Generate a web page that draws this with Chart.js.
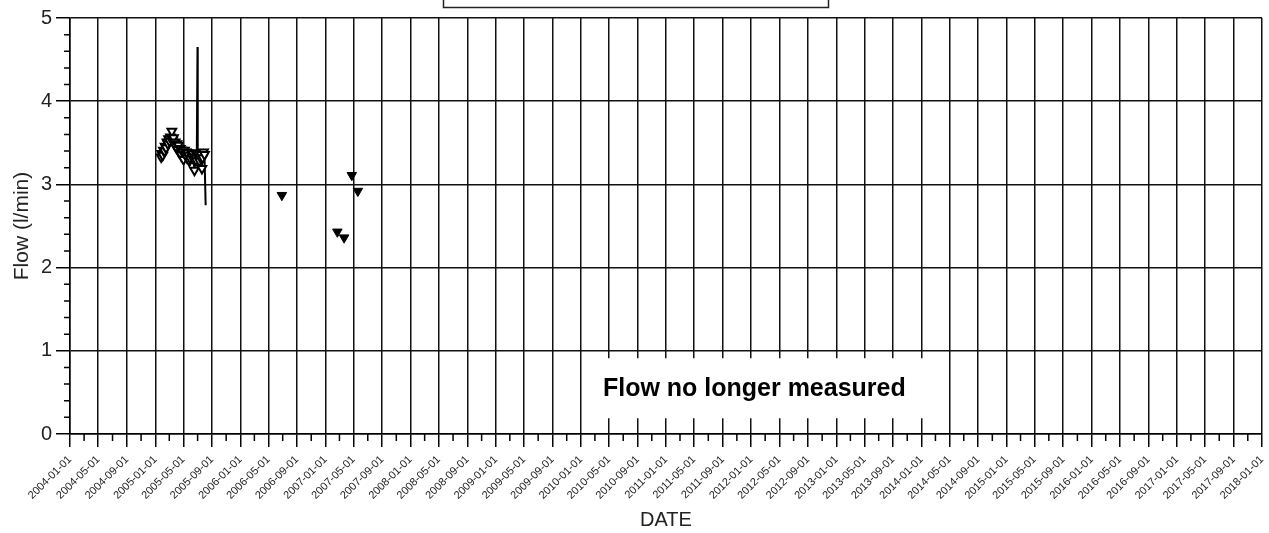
<!DOCTYPE html>
<html>
<head>
<meta charset="utf-8">
<title>Flow</title>
<script src="https://cdn.jsdelivr.net/npm/chart.js@4.4.1/dist/chart.umd.min.js"></script>
<style>
    html, body { margin: 0; padding: 0; background: #fff; }
    #wrap { width: 1269px; height: 533px; }
</style>
</head>
<body>
<div id="wrap"><canvas id="flowChart" width="1269" height="533"></canvas></div>
<script>
// logger series (line + open triangles)
const loggerDates = [
    '2005-01-26', '2005-01-29', '2005-02-02', '2005-02-05', '2005-02-09', '2005-02-12',
    '2005-02-16', '2005-02-20', '2005-02-24', '2005-02-27', '2005-03-03', '2005-03-07',
    '2005-03-10', '2005-03-13', '2005-03-16', '2005-03-20', '2005-03-24', '2005-03-27',
    '2005-03-31', '2005-04-04', '2005-04-07', '2005-04-10', '2005-04-14', '2005-04-18',
    '2005-04-21', '2005-04-25', '2005-04-28', '2005-05-02', '2005-05-06', '2005-05-10',
    '2005-05-13', '2005-05-17', '2005-05-20', '2005-05-23', '2005-05-27', '2005-05-31',
    '2005-06-04', '2005-06-08', '2005-06-11', '2005-06-15', '2005-06-18', '2005-06-22',
    '2005-06-25', '2005-06-28', '2005-07-01', '2005-07-02', '2005-07-05', '2005-07-09',
    '2005-07-12', '2005-07-16', '2005-07-20', '2005-07-23', '2005-07-27', '2005-07-31',
    '2005-08-05'
]
const loggerFlow = [
    3.33, 3.37, 3.35, 3.41, 3.40, 3.46,
    3.44, 3.51, 3.49, 3.55, 3.52, 3.57,
    3.55, 3.64, 3.53, 3.56, 3.48, 3.51,
    3.45, 3.49, 3.42, 3.47, 3.38, 3.43,
    3.36, 3.41, 3.39, 3.30, 3.41, 3.36,
    3.39, 3.32, 3.38, 3.35, 3.28, 3.31,
    3.38, 3.33, 3.37, 3.30, 3.17, 3.33,
    3.29, 3.35, 4.65, 3.34, 3.35, 3.28,
    3.33, 3.36, 3.19, 3.32, 3.39, 3.36,
    2.75
]
// readings drawn without a marker
const loggerNoMarker = ['2005-07-01', '2005-08-05']

// manual readings (filled triangles)
const manualDates = ['2006-06-28', '2007-02-21', '2007-03-22', '2007-04-24', '2007-05-20']
const manualFlow = [2.87, 2.43, 2.36, 3.11, 2.92]

const tickDates = [
    '2004-01-01', '2004-05-01', '2004-09-01', '2005-01-01', '2005-05-01', '2005-09-01',
    '2006-01-01', '2006-05-01', '2006-09-01', '2007-01-01', '2007-05-01', '2007-09-01',
    '2008-01-01', '2008-05-01', '2008-09-01', '2009-01-01', '2009-05-01', '2009-09-01',
    '2010-01-01', '2010-05-01', '2010-09-01', '2011-01-01', '2011-05-01', '2011-09-01',
    '2012-01-01', '2012-05-01', '2012-09-01', '2013-01-01', '2013-05-01', '2013-09-01',
    '2014-01-01', '2014-05-01', '2014-09-01', '2015-01-01', '2015-05-01', '2015-09-01',
    '2016-01-01', '2016-05-01', '2016-09-01', '2017-01-01', '2017-05-01', '2017-09-01',
    '2018-01-01'
]
const flowTicks = [0, 1, 2, 3, 4, 5]

const noteText = 'Flow no longer measured'
const noteAt = { date: '2012-01-15', flow: 0.55 }

const FONT = 'Liberation Sans, Arial, sans-serif'

const toPoints = (dates, vals) => dates.map((d, i) => ({ x: Date.parse(d), y: vals[i] }))

// small ticks between the labelled ones
const minorTicks = {
    id: 'minorTicks',
    afterDraw: chart => {
        const ctx = chart.ctx,
            area = chart.chartArea,
            xs = chart.scales.x,
            ys = chart.scales.y

        ctx.save()
        ctx.strokeStyle = '#000'
        ctx.lineWidth = 1.5
        ctx.beginPath()
        for (let i = 1; i < flowTicks.length; i++) {
            for (let k = 1; k < 5; k++) {
                const py = ys.getPixelForValue(flowTicks[i - 1] + k * (flowTicks[i] - flowTicks[i - 1]) / 5)
                ctx.moveTo(area.left - 6, py)
                ctx.lineTo(area.left, py)
            }
        }
        for (let i = 1; i < tickDates.length; i++) {
            const px = xs.getPixelForValue((Date.parse(tickDates[i - 1]) + Date.parse(tickDates[i])) / 2)
            ctx.moveTo(px, area.bottom)
            ctx.lineTo(px, area.bottom + 7)
        }
        ctx.stroke()
        ctx.restore()
    }
}

// white label over the grid, plus the frame clipped at the top
const notes = {
    id: 'notes',
    beforeDatasetsDraw: chart => {
        const ctx = chart.ctx,
            cx = chart.scales.x.getPixelForValue(Date.parse(noteAt.date)),
            cy = chart.scales.y.getPixelForValue(noteAt.flow)

        ctx.save()
        ctx.fillStyle = '#fff'
        ctx.fillRect(cx - 166, cy - 30, 345, 60)
        ctx.fillStyle = '#000'
        ctx.font = 'bold 25px ' + FONT
        ctx.textAlign = 'center'
        ctx.textBaseline = 'middle'
        ctx.fillText(noteText, cx, cy + 1)
        ctx.restore()
    },
    afterDraw: chart => {
        const ctx = chart.ctx
        ctx.save()
        ctx.fillStyle = '#fff'
        ctx.fillRect(443, -5, 385, 12)
        ctx.strokeStyle = '#222'
        ctx.lineWidth = 1.5
        ctx.strokeRect(443.5, -5, 385, 12.5)
        ctx.restore()
    }
}

new Chart(document.getElementById('flowChart'), {
    type: 'line',
    data: {
        datasets: [{
            label: 'Logger',
            data: toPoints(loggerDates, loggerFlow),
            borderColor: '#000',
            borderWidth: 2,
            backgroundColor: '#fff',
            pointStyle: 'triangle',
            rotation: 180,
            pointRadius: ctx => loggerNoMarker.includes(loggerDates[ctx.dataIndex]) ? 0 : 5,
            pointBackgroundColor: '#fff',
            pointBorderColor: '#000',
            pointBorderWidth: 2,
            tension: 0
        }, {
            label: 'Manual',
            data: toPoints(manualDates, manualFlow),
            showLine: false,
            pointStyle: 'triangle',
            rotation: 180,
            pointRadius: 5.5,
            pointBackgroundColor: '#000',
            pointBorderColor: '#000',
            pointBorderWidth: 1
        }]
    },
    options: {
        responsive: false,
        animation: false,
        events: [],
        layout: {
            padding: { top: 18, right: 6, bottom: 0, left: 0 }
        },
        plugins: {
            legend: { display: false },
            tooltip: { enabled: false }
        },
        scales: {
            x: {
                type: 'linear',
                min: Date.parse(tickDates[0]),
                max: Date.parse(tickDates[tickDates.length - 1]),
                afterBuildTicks: scale => {
                    scale.ticks = tickDates.map(d => ({ value: Date.parse(d) }))
                },
                afterFit: scale => {
                    scale.height = 99
                    scale.paddingLeft = 0
                    scale.paddingRight = 0
                },
                ticks: {
                    autoSkip: false,
                    minRotation: 45,
                    maxRotation: 45,
                    padding: 6,
                    color: '#222',
                    font: { family: FONT, size: 11 },
                    callback: (v, i) => tickDates[i]
                },
                grid: {
                    color: '#111',
                    lineWidth: 1.5,
                    tickLength: 13,
                    tickColor: '#000'
                },
                border: { color: '#000', width: 1.5 },
                title: {
                    display: true,
                    text: 'DATE',
                    color: '#222',
                    font: { family: FONT, size: 20 },
                    padding: { top: 0, bottom: 1 }
                }
            },
            y: {
                min: flowTicks[0],
                max: flowTicks[flowTicks.length - 1],
                afterBuildTicks: scale => {
                    scale.ticks = flowTicks.map(v => ({ value: v }))
                },
                afterFit: scale => {
                    scale.width = 70
                    scale.paddingTop = 0
                    scale.paddingBottom = 0
                },
                ticks: {
                    padding: 4,
                    color: '#222',
                    font: { family: FONT, size: 20 }
                },
                grid: {
                    color: '#111',
                    lineWidth: 1.5,
                    tickLength: 14,
                    tickColor: '#000'
                },
                border: { color: '#000', width: 1.5 },
                title: {
                    display: true,
                    text: 'Flow (l/min)',
                    color: '#222',
                    font: { family: FONT, size: 21 },
                    padding: { top: 10, bottom: 0 }
                }
            }
        }
    },
    plugins: [minorTicks, notes]
})
</script>
</body>
</html>
